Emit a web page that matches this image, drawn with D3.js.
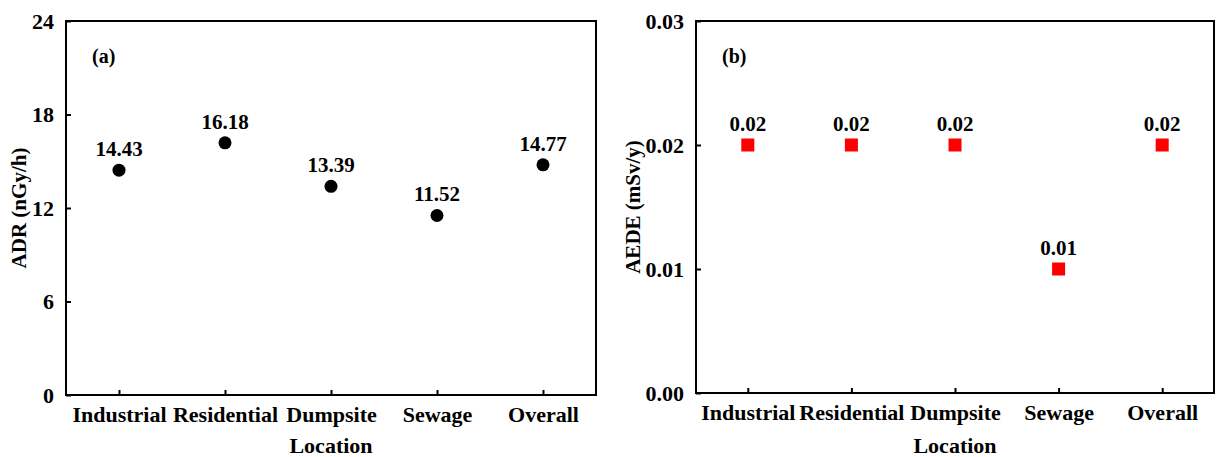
<!DOCTYPE html>
<html>
<head>
<meta charset="utf-8">
<script src="https://cdn.jsdelivr.net/npm/d3@7"></script>
<style>
body { margin: 0; background: #fff; }
text { font-family: "Liberation Serif", "Times New Roman", serif; font-weight: bold; fill: #000; }
</style>
</head>
<body>
<svg id="chart" width="1219" height="457"></svg>
<script>
const locations = ["Industrial", "Residential", "Dumpsite", "Sewage", "Overall"];
const adrValues = [14.43, 16.18, 13.39, 11.52, 14.77];
const aedeValues = [0.02, 0.02, 0.02, 0.01, 0.02];
const adrTicks = [0, 6, 12, 18, 24];
const aedeTicks = [0, 0.01, 0.02, 0.03];

const svg = d3.select("#chart");

function drawPanel(cfg) {
    let g = svg.append("g");
    let x = d3.scalePoint().domain(locations).range([cfg.left, cfg.right]).padding(0.5);
    let y = d3.scaleLinear().domain(cfg.domain).range([cfg.bottom, cfg.top]);

    // frame
    g.append("rect")
        .attr("x", cfg.left).attr("y", cfg.top)
        .attr("width", cfg.right - cfg.left).attr("height", cfg.bottom - cfg.top)
        .attr("fill", "none").attr("stroke", "#000").attr("stroke-width", 2);

    // y axis, ticks inside
    let yAxis = d3.axisLeft(y).tickValues(cfg.ticks).tickSizeInner(-5).tickSizeOuter(0)
        .tickPadding(12).tickFormat(cfg.fmt);
    let ya = g.append("g").attr("transform", "translate(" + cfg.left + ",0)").call(yAxis);
    ya.select(".domain").remove();
    ya.selectAll("line").attr("stroke-width", 2);
    ya.selectAll("text").style("font-size", "22px").style("font-family", "Liberation Serif").style("font-weight", "bold");

    // x axis, ticks inside
    let xAxis = d3.axisBottom(x).tickSizeInner(-5).tickSizeOuter(0).tickPadding(11);
    let xa = g.append("g").attr("transform", "translate(0," + cfg.bottom + ")").call(xAxis);
    xa.select(".domain").remove();
    xa.selectAll("line").attr("stroke-width", 2);
    xa.selectAll("text").style("font-size", "22px").style("font-family", "Liberation Serif").style("font-weight", "bold");

    // axis titles
    g.append("text")
        .attr("x", (cfg.left + cfg.right) / 2).attr("y", 453)
        .attr("text-anchor", "middle").style("font-size", "22px")
        .text("Location");
    g.append("text")
        .attr("transform", "translate(" + cfg.titleX + "," + ((cfg.top + cfg.bottom) / 2) + ") rotate(-90)")
        .attr("text-anchor", "middle").style("font-size", "21px")
        .text(cfg.yTitle);

    // panel label
    g.append("text")
        .attr("x", cfg.left + 26).attr("y", 63)
        .style("font-size", "20px")
        .text(cfg.tag);

    // points
    for (let i = 0; i < locations.length; i++) {
        let cx = x(locations[i]);
        let cy = y(cfg.values[i]);
        if (cfg.shape === "circle") {
            g.append("circle").attr("cx", cx).attr("cy", cy).attr("r", 6.5).attr("fill", "#000");
        } else {
            g.append("rect").attr("x", cx - 6.5).attr("y", cy - 6.5)
                .attr("width", 13).attr("height", 13).attr("fill", "#ff0000");
        }
        g.append("text")
            .attr("x", cx).attr("y", cy - 14)
            .attr("text-anchor", "middle").style("font-size", "21px")
            .text(cfg.labelFmt(cfg.values[i]));
    }
}

drawPanel({
    left: 66, right: 596, top: 21, bottom: 395,
    domain: [0, 24], ticks: adrTicks, fmt: d3.format("d"),
    values: adrValues, labelFmt: d3.format(".2f"),
    shape: "circle", yTitle: "ADR (nGy/h)", titleX: 26, tag: "(a)"
});

drawPanel({
    left: 696, right: 1214, top: 21, bottom: 393,
    domain: [0, 0.03], ticks: aedeTicks, fmt: d3.format(".2f"),
    values: aedeValues, labelFmt: d3.format(".2f"),
    shape: "square", yTitle: "AEDE (mSv/y)", titleX: 640, tag: "(b)"
});
</script>
</body>
</html>
